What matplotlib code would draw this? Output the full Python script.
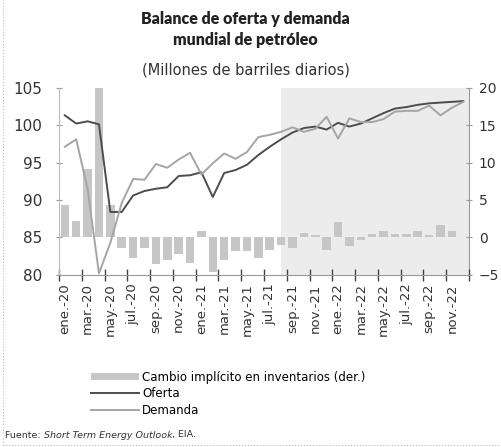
import matplotlib
matplotlib.use('Agg')
import matplotlib.pyplot as plt
import numpy as np
from matplotlib.lines import Line2D

plt.rcParams['font.family'] = ['DejaVu Sans']

# datos mensuales ene-2020 a dic-2022 (millones de barriles diarios)
meses = ['ene.', 'feb.', 'mar.', 'abr.', 'may.', 'jun.',
         'jul.', 'ago.', 'sep.', 'oct.', 'nov.', 'dic.']
anios = ['20', '21', '22']
months = [m + '-' + a for a in anios for m in meses]

oferta = [101.3, 100.2, 100.5, 100.1, 88.4, 88.4, 90.6, 91.2, 91.5, 91.7, 93.2, 93.3,
          93.7, 90.4, 93.6, 94.0, 94.7, 96.0, 97.1, 98.1, 99.0, 99.6, 99.8, 99.4,
          100.3, 99.8, 100.2, 100.9, 101.6, 102.2, 102.4, 102.7, 102.9, 103.0, 103.1, 103.2]

demanda = [97.1, 98.1, 91.5, 80.2, 84.3, 89.6, 92.8, 92.7, 94.8, 94.3, 95.4, 96.3,
           93.4, 94.9, 96.2, 95.5, 96.4, 98.4, 98.7, 99.1, 99.7, 99.1, 99.5, 101.1,
           98.2, 100.9, 100.4, 100.4, 100.8, 101.8, 101.9, 101.9, 102.6, 101.3, 102.3, 103.1]

inventarios = [4.3, 2.2, 9.2, 19.9, 4.3, -1.4, -2.8, -1.4, -3.6, -3.0, -2.2, -3.4,
               0.9, -4.6, -3.0, -1.8, -1.8, -2.8, -1.7, -1.0, -1.4, 0.6, 0.3, -1.7,
               2.1, -1.1, -0.3, 0.5, 0.8, 0.4, 0.5, 0.8, 0.3, 1.7, 0.8, 0.1]

inicio_pronostico = 'ago.-21'

x = np.arange(len(months))

fig = plt.figure(figsize=(5.01, 4.47), dpi=100)
ax = fig.add_axes([0.118, 0.385, 0.818, 0.419])
ax2 = ax.twinx()

# zona sombreada (pronostico)
ax2.axvspan(months.index(inicio_pronostico), len(months) - 0.5,
            color='#ececec', lw=0, zorder=0)
bars = ax2.bar(x, inventarios, width=0.75, color='#c6c6c6', zorder=2,
               label='Cambio implícito en inventarios (der.)')

l1, = ax.plot(x, oferta, color='#4d4d4d', lw=1.4, label='Oferta')
l2, = ax.plot(x, demanda, color='#a5a5a5', lw=1.4, label='Demanda')
ax.set_zorder(ax2.get_zorder() + 1)
ax.patch.set_visible(False)

ax.set_xlim(-0.5, len(months) - 0.5)
ax.set_ylim(80, 105)
ax2.set_ylim(-5, 20)
ax.set_yticks(range(80, 106, 5))
ax2.set_yticks(range(-5, 21, 5))

ax.set_xticks(x[::2])
ax.set_xticklabels(months[::2], rotation=90)
ax.set_xticks(np.arange(-0.5, len(months), 2), minor=True)
ax.tick_params(axis='x', which='major', length=0, pad=6, labelsize=9.5, colors='#333333')
ax.tick_params(axis='x', which='minor', direction='inout', length=8, width=1.0,
               color='#444444')
ax.tick_params(axis='y', direction='inout', length=4, pad=10, labelsize=11,
               colors='#333333', color='#999999')
ax2.tick_params(axis='y', direction='inout', length=4, pad=5, labelsize=10,
                colors='#333333', color='#999999')

for s in ['top', 'right']:
    ax.spines[s].set_visible(False)
for s in ['top', 'left', 'bottom']:
    ax2.spines[s].set_visible(False)
ax.spines['left'].set_color('#bbbbbb')
ax.spines['bottom'].set_color('#999999')
ax2.spines['right'].set_color('#999999')

# titulo
fig.text(0.49, 0.958, 'Balance de oferta y demanda', ha='center', va='center',
         fontsize=11.5, family='Lato', fontweight='heavy', color='#222222')
fig.text(0.49, 0.91, 'mundial de petróleo', ha='center', va='center',
         fontsize=11.5, family='Lato', fontweight='heavy', color='#222222')
fig.text(0.49, 0.843, '(Millones de barriles diarios)', ha='center', va='center',
         fontsize=10.5, color='#333333')

fig.legend([bars, l1, l2],
           ['Cambio implícito en inventarios (der.)', 'Oferta', 'Demanda'],
           loc='upper left', bbox_to_anchor=(0.181, 0.171), frameon=False,
           fontsize=8.5, handlelength=4.1, handleheight=0.5, labelspacing=0.3,
           handletextpad=0.25, borderpad=0, borderaxespad=0)

# fuente
r = fig.canvas.get_renderer()
fy = 1 - 435 / 447
t1 = fig.text(0.01, fy, 'Fuente: ', fontsize=6.8, color='#333333', va='center')
w1 = t1.get_window_extent(r).width / fig.bbox.width
t2 = fig.text(0.01 + w1, fy, 'Short Term Energy Outlook', fontsize=6.8,
              style='italic', color='#333333', va='center')
w2 = t2.get_window_extent(r).width / fig.bbox.width
fig.text(0.01 + w1 + w2, fy, ', EIA.', fontsize=6.8, color='#333333', va='center')

# marco punteado
fig.add_artist(Line2D([0.006, 0.006], [0.004, 1.0], transform=fig.transFigure,
                      ls=':', color='#bbbbbb', lw=0.8))
fig.add_artist(Line2D([0.006, 1.0], [0.004, 0.004], transform=fig.transFigure,
                      ls=':', color='#bbbbbb', lw=0.8))

fig.savefig('out.png', dpi=100)
